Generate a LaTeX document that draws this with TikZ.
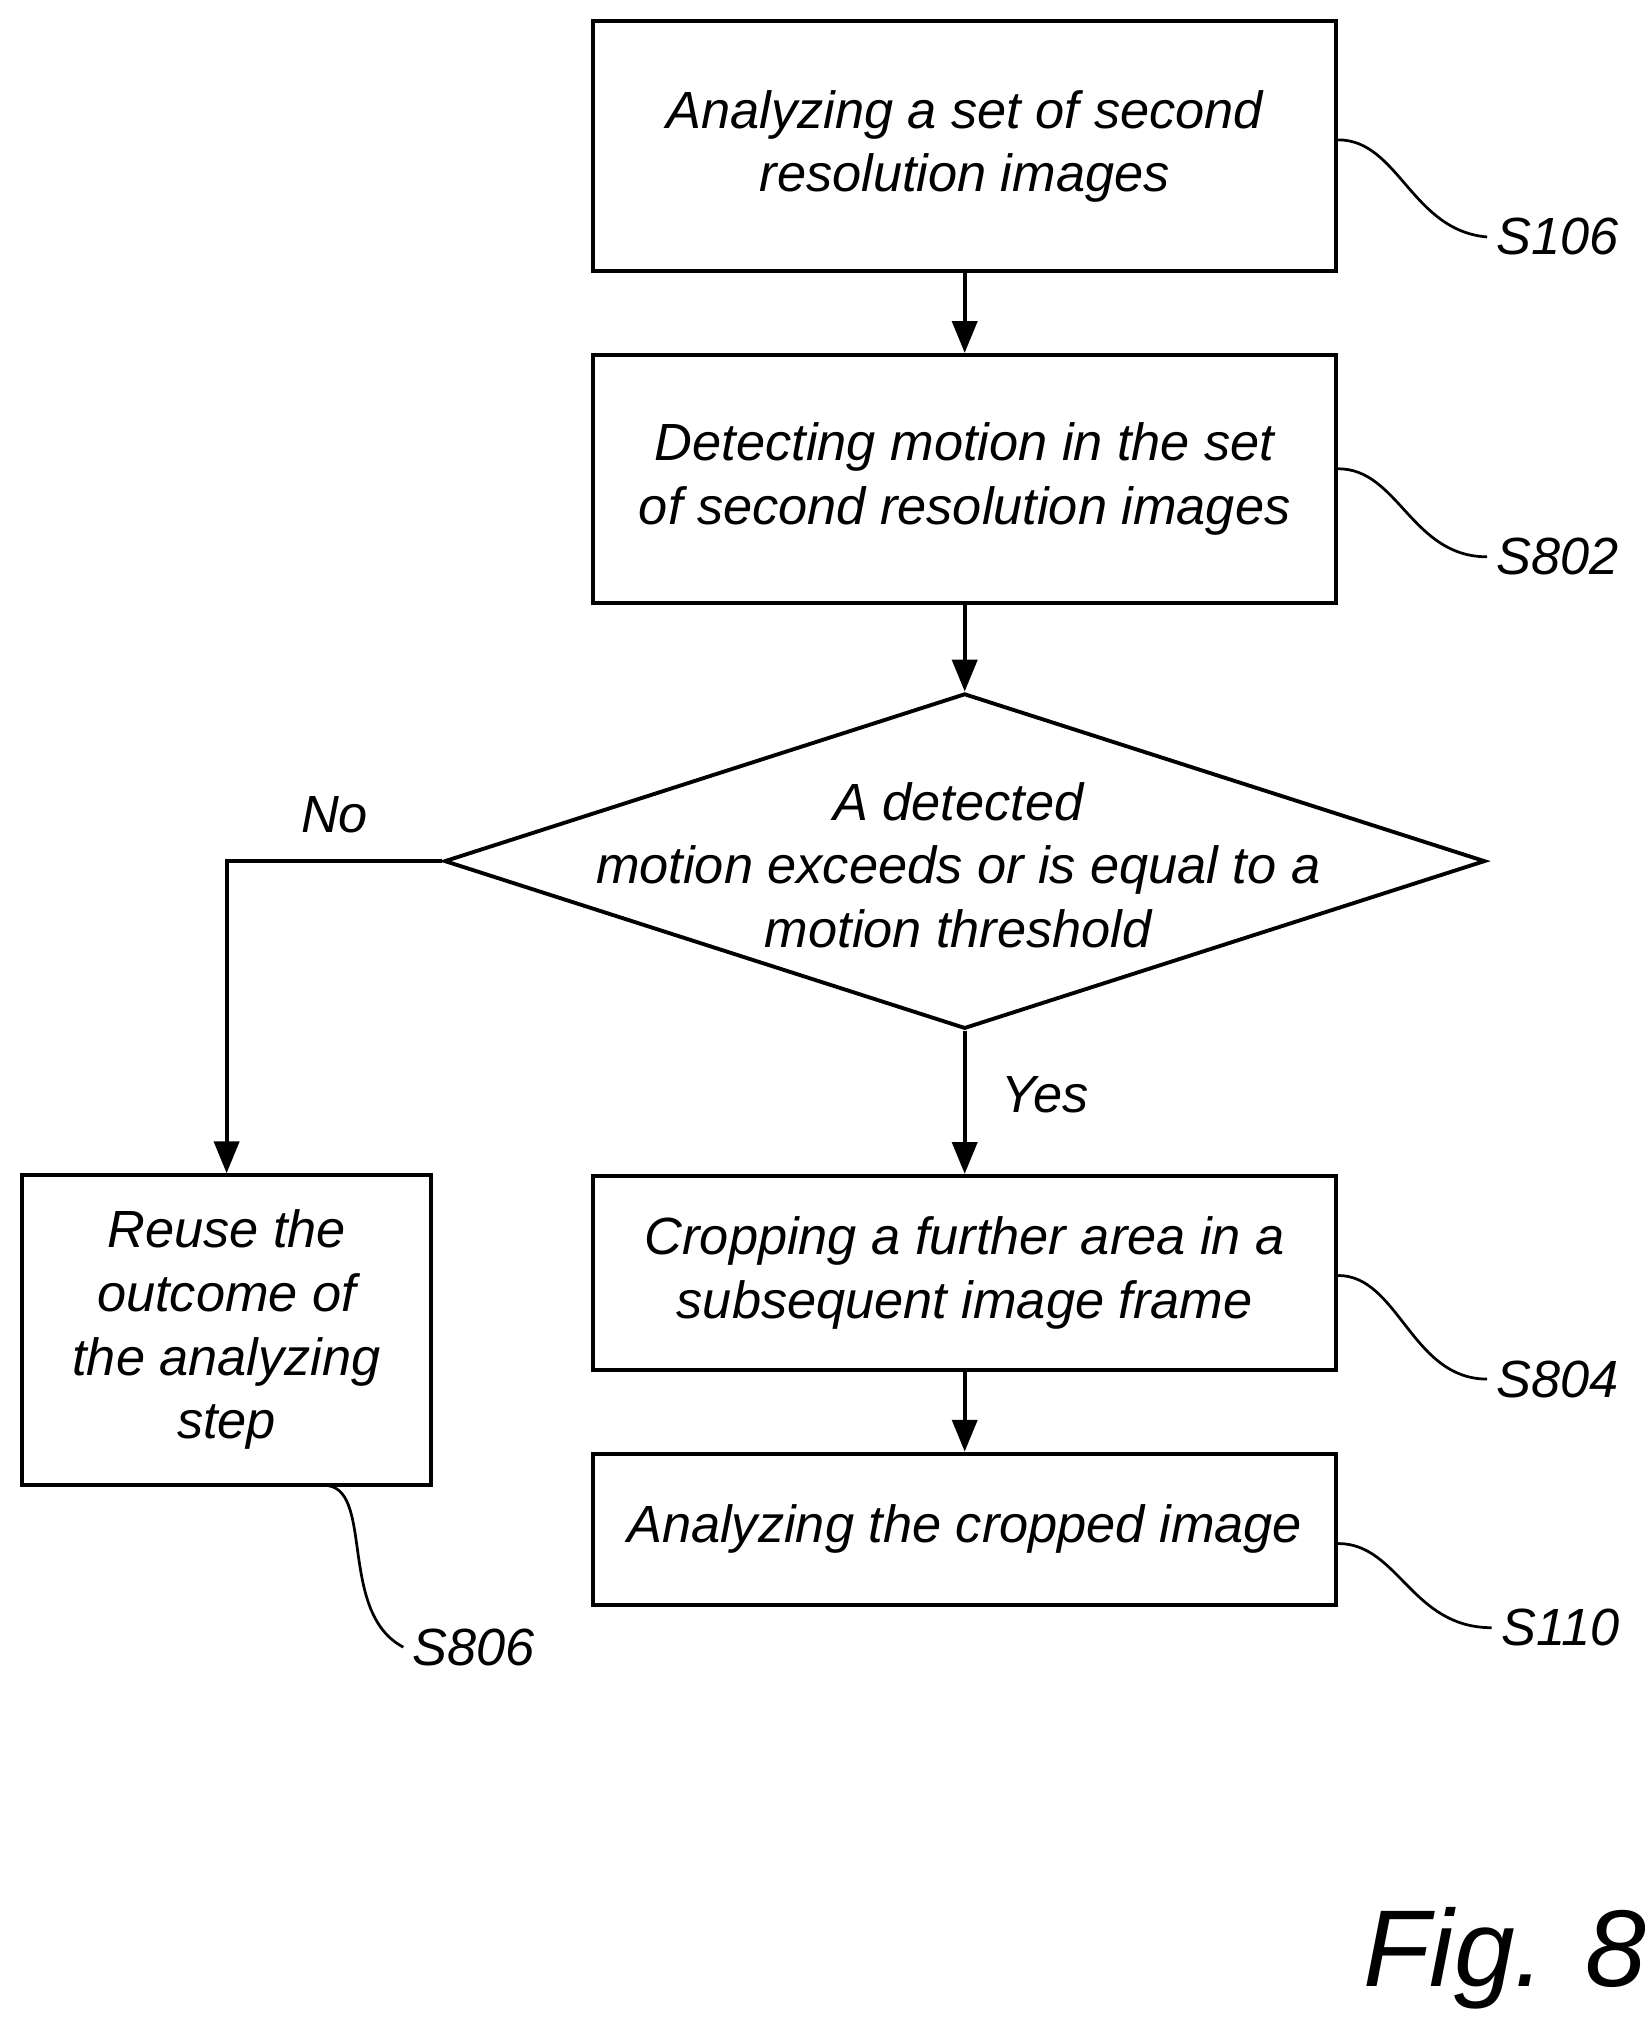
\documentclass[tikz,border=0pt]{standalone}
\usepackage{fontspec}
\setmainfont{Liberation Sans}
\usetikzlibrary{shapes.geometric,arrows.meta}
\begin{document}
\begin{tikzpicture}[x=0.02cm,y=-0.02cm,line width=1.7pt,
  txt/.style={font=\fontsize{23}{28}\selectfont\itshape,align=center},
  box/.style={draw,txt,inner sep=0pt},
  lead/.style={line width=1.2pt},
  flow/.style={-{Triangle[length=14pt,width=11pt]}}]
  \useasboundingbox (0,0) rectangle (1270,1570);
  \node [box,minimum width=11.48cm,minimum height=3.86cm] (s106) at (745,113) {Analyzing a set of second\\resolution images};
  \node [box,minimum width=11.48cm,minimum height=3.84cm] (s802) at (745,370) {Detecting motion in the set\\of second resolution images};
  \node [draw,diamond,inner sep=0pt,minimum width=16.08cm,minimum height=5.18cm] (dec) at (745,665) {};
  \node [txt] (dect) at (740,668) {A detected\\motion exceeds or is equal to a\\motion threshold};
  \node [box,minimum width=11.48cm,minimum height=3.0cm] (s804) at (745,983) {Cropping a further area in a\\subsequent image frame};
  \node [box,minimum width=11.48cm,minimum height=2.34cm] (s110) at (745,1181) {Analyzing the cropped image};
  \node [box,minimum width=6.32cm,minimum height=4.78cm] (s806) at (175,1027) {Reuse the\\outcome of\\the analyzing\\step};
  % arrows
  \draw [flow] (s106) -- (s802);
  \draw [flow] (s802) -- (dec);
  \draw [flow] (dec) -- (s804) node [txt,pos=0.45,right=12pt] (yes) {Yes};
  \draw [flow] (dec.west) -| (s806) node [txt,pos=0.25,above=8pt] (no) {No};
  \draw [flow] (s804) -- (s110);
  % reference labels
  \node [txt] (l106) at (1203,183) {S106};
  \node [txt] (l802) at (1203,430) {S802};
  \node [txt] (l804) at (1203,1065) {S804};
  \node [txt] (l110) at (1205,1257) {S110};
  \node [txt] (l806) at (366,1272) {S806};
  \draw [lead] (s106.east |- 0,108) .. controls (1080,108) and (1090,178) .. (l106.west);
  \draw [lead] (s802.east |- 0,362) .. controls (1080,362) and (1090,430) .. (l802.west);
  \draw [lead] (s804.east |- 0,985) .. controls (1080,985) and (1090,1065) .. (l804.west);
  \draw [lead] (s110.east |- 0,1192) .. controls (1080,1192) and (1090,1257) .. (l110.west);
  \draw [lead] (250,1147) .. controls (290,1147) and (260,1245) .. (l806.west);
  \node [font=\fontsize{48}{56}\selectfont\itshape] (fig) at (1162,1512) {Fig. 8};
\end{tikzpicture}
\end{document}
